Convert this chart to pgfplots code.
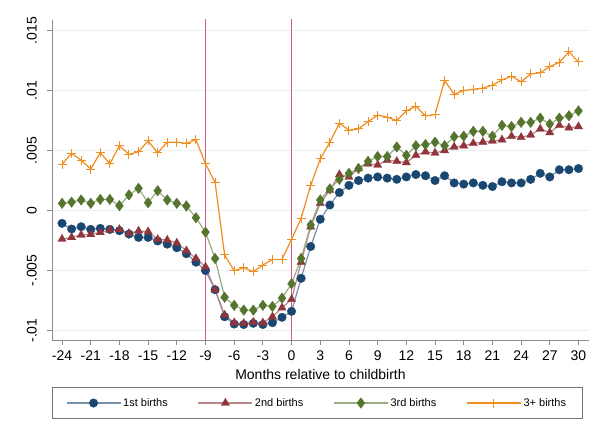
\documentclass[border=0pt]{standalone}
\usepackage{fontspec}
\setmainfont{Liberation Sans}
\usepackage{pgfplots}
\pgfplotsset{compat=1.18}
\definecolor{navyM}{RGB}{26,71,111}
\definecolor{maroonM}{RGB}{144,53,59}
\definecolor{greenM}{RGB}{85,117,47}
\definecolor{orangeM}{RGB}{240,142,32}
\definecolor{gridc}{RGB}{232,240,242}
\begin{document}
\begin{tikzpicture}[x=1pt,y=1pt]
\useasboundingbox (0,0) rectangle (599,435);
\begin{axis}[
  at={(52pt,95pt)}, anchor=south west,
  scale only axis, width=537pt, height=320pt,
  xmin=-25.05, xmax=31.1, ymin=-0.01079, ymax=0.01588,
  axis x line*=bottom, axis y line*=left,
  axis line style={draw=black!45, line width=0.8pt},
  tick align=outside,
  xtick={-24,-21,...,30},
  xticklabels={-24,-21,-18,-15,-12,-9,-6,-3,0,3,6,9,12,15,18,21,24,27,30},
  ytick={-0.01,-0.005,0,0.005,0.01,0.015},
  yticklabels={-.01,-.005,0,.005,.01,.015},
  scaled y ticks=false, scaled x ticks=false,
  major tick length=5pt,
  tick style={draw=black!45, line width=0.8pt},
  ymajorgrids, grid style={draw=gridc, line width=0.9pt},
  tick label style={font=\fontsize{14}{16}\selectfont},
  yticklabel style={rotate=90, anchor=south, inner sep=0pt, yshift=10pt},
  xticklabel style={inner sep=0pt, yshift=-6pt},
  xlabel={Months relative to childbirth},
  xlabel style={font=\fontsize{14}{16}\selectfont, at={(axis description cs:0.5,-0.108)}, anchor=center, inner sep=0pt},
  legend columns=4,
  legend cell align=left,
  legend style={at={(0.4935,-0.197)}, anchor=center, draw=black!55, line width=0.8pt,
    font=\fontsize{11}{13}\selectfont, inner xsep=14pt, inner ysep=9pt,
    /tikz/every even column/.append style={column sep=28pt}},
  legend image code/.code={\draw[mark repeat=2,mark phase=2,#1] plot coordinates {(0pt,0pt) (27pt,0pt) (54pt,0pt)};},
]
\addplot[draw=none, fill=red!75!blue!65!white, mark=none, forget plot] coordinates {(-9.095,-0.012) (-9.095,0.017) (-8.905,0.017) (-8.905,-0.012)};
\addplot[draw=none, fill=red!75!blue!65!white, mark=none, forget plot] coordinates {(-0.095,-0.012) (-0.095,0.017) (0.095,0.017) (0.095,-0.012)};

\addplot[draw=navyM!60!white, line width=1.2pt, mark=*, mark size=4.3pt, mark options={fill=navyM, draw=navyM, line width=0.3pt}] coordinates {
(-24,-0.00107) (-23,-0.00154) (-22,-0.00135) (-21,-0.00157) (-20,-0.00149) (-19,-0.00157)
(-18,-0.00168) (-17,-0.00196) (-16,-0.00224) (-15,-0.00224) (-14,-0.00254) (-13,-0.0028)
(-12,-0.0031) (-11,-0.0036) (-10,-0.0043) (-9,-0.0050) (-8,-0.0066) (-7,-0.00885)
(-6,-0.00946) (-5,-0.0095) (-4,-0.0094) (-3,-0.0095) (-2,-0.00935) (-1,-0.0089)
(0,-0.0084) (1,-0.00565) (2,-0.0030) (3,-0.00073) (4,0.00046) (5,0.0015)
(6,0.0021) (7,0.0025) (8,0.0027) (9,0.0028) (10,0.0027) (11,0.0026)
(12,0.0028) (13,0.0030) (14,0.0029) (15,0.0025) (16,0.0029) (17,0.0023)
(18,0.0022) (19,0.0023) (20,0.0021) (21,0.0020) (22,0.0024) (23,0.0023)
(24,0.0023) (25,0.0026) (26,0.0031) (27,0.0028) (28,0.0034) (29,0.0034) (30,0.0035)};
\addlegendentry{1st births}

\addplot[draw=maroonM!60!white, line width=1.2pt, mark=triangle*, mark size=4.8pt, mark options={fill=maroonM, draw=maroonM, line width=0.3pt}] coordinates {
(-24,-0.00238) (-23,-0.00224) (-22,-0.00204) (-21,-0.00199) (-20,-0.00182) (-19,-0.00163)
(-18,-0.00157) (-17,-0.0019) (-16,-0.0017) (-15,-0.00176) (-14,-0.0024) (-13,-0.00246)
(-12,-0.0027) (-11,-0.00335) (-10,-0.0040) (-9,-0.0047) (-8,-0.0066) (-7,-0.0087)
(-6,-0.00935) (-5,-0.0094) (-4,-0.0093) (-3,-0.00935) (-2,-0.00885) (-1,-0.0081)
(0,-0.0074) (1,-0.0043) (2,-0.00135) (3,0.0006) (4,0.0017) (5,0.0030)
(6,0.0028) (7,0.0035) (8,0.0039) (9,0.0038) (10,0.0042) (11,0.0041)
(12,0.0040) (13,0.0046) (14,0.0049) (15,0.0048) (16,0.0050) (17,0.0053)
(18,0.0054) (19,0.0056) (20,0.0057) (21,0.0058) (22,0.0059) (23,0.0062)
(24,0.0061) (25,0.0063) (26,0.0068) (27,0.0065) (28,0.0071) (29,0.0069) (30,0.0070)};
\addlegendentry{2nd births}

\addplot[draw=greenM!60!white, line width=1.2pt, mark=diamond*, mark size=5.3pt, mark options={fill=greenM, draw=greenM, line width=0.3pt}] coordinates {
(-24,0.0006) (-23,0.0007) (-22,0.00088) (-21,0.0006) (-20,0.00093) (-19,0.00093)
(-18,0.0004) (-17,0.0013) (-16,0.00185) (-15,0.00065) (-14,0.00165) (-13,0.00088)
(-12,0.0006) (-11,0.00038) (-10,-0.0006) (-9,-0.0018) (-8,-0.0040) (-7,-0.00723)
(-6,-0.0079) (-5,-0.0083) (-4,-0.0083) (-3,-0.0079) (-2,-0.0080) (-1,-0.0073)
(0,-0.0061) (1,-0.0040) (2,-0.0012) (3,0.00088) (4,0.0018) (5,0.0026)
(6,0.0031) (7,0.0035) (8,0.0041) (9,0.0045) (10,0.0045) (11,0.0053)
(12,0.0046) (13,0.0054) (14,0.0055) (15,0.0057) (16,0.0054) (17,0.00615)
(18,0.0062) (19,0.0066) (20,0.0066) (21,0.0062) (22,0.0071) (23,0.0070)
(24,0.00735) (25,0.00735) (26,0.0077) (27,0.0072) (28,0.0077) (29,0.0079) (30,0.0083)};
\addlegendentry{3rd births}

\addplot[draw=orangeM, line width=1.2pt, mark=+, mark size=4.5pt, mark options={draw=orangeM, line width=1pt}] coordinates {
(-24,0.00385) (-23,0.00477) (-22,0.0042) (-21,0.00346) (-20,0.00482) (-19,0.0039)
(-18,0.0054) (-17,0.00468) (-16,0.0049) (-15,0.0058) (-14,0.0048) (-13,0.0057)
(-12,0.0057) (-11,0.0056) (-10,0.0059) (-9,0.0039) (-8,0.00235) (-7,-0.0037)
(-6,-0.00502) (-5,-0.00477) (-4,-0.0051) (-3,-0.00454) (-2,-0.00407) (-1,-0.00407)
(0,-0.0024) (1,-0.00065) (2,0.0021) (3,0.0043) (4,0.00568) (5,0.00727)
(6,0.0067) (7,0.0068) (8,0.0074) (9,0.00796) (10,0.00777) (11,0.0075)
(12,0.0083) (13,0.0087) (14,0.00788) (15,0.0080) (16,0.01085) (17,0.00968)
(18,0.0100) (19,0.0101) (20,0.0102) (21,0.01046) (22,0.01088) (23,0.0112)
(24,0.01073) (25,0.01138) (26,0.01148) (27,0.0120) (28,0.01235) (29,0.01323) (30,0.01238)};
\addlegendentry{3+ births}
\end{axis}
\end{tikzpicture}
\end{document}
